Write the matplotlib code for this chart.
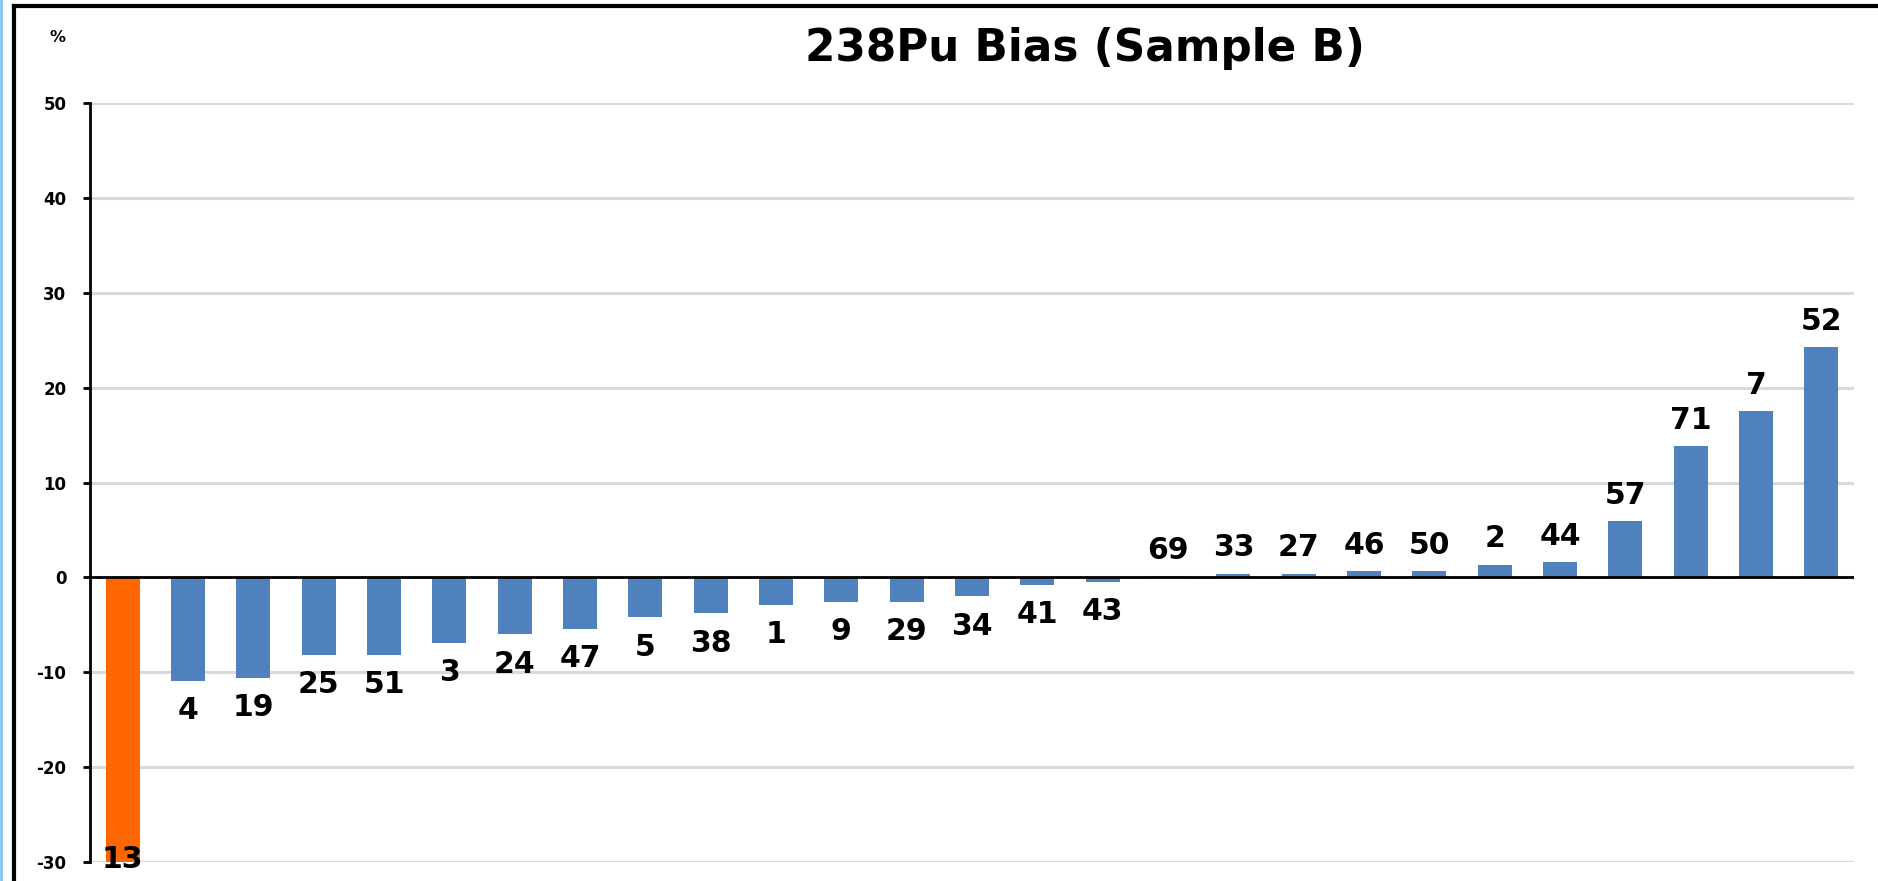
#!/usr/bin/env python3
"""238Pu bias per laboratory, Sample B."""

import matplotlib

matplotlib.use("Agg")
import matplotlib.pyplot as plt  # noqa: E402
from matplotlib.lines import Line2D  # noqa: E402
import numpy as np  # noqa: E402

LABS = ["13", "4", "19", "25", "51", "3", "24", "47", "5", "38", "1", "9", "29",
        "34", "41", "43", "69", "33", "27", "46", "50", "2", "44", "57", "71",
        "7", "52"]
BIAS = [-30.0, -10.9, -10.6, -8.15, -8.15, -6.9, -6.0, -5.4, -4.2, -3.8, -2.9,
        -2.6, -2.6, -2.0, -0.8, -0.5, 0.1, 0.4, 0.4, 0.7, 0.7, 1.35, 1.6, 5.9,
        13.85, 17.5, 24.3]
HIGHLIGHT = ["13"]
Y_TICKS = [-30, -20, -10, 0, 10, 20, 30, 40, 50]

BLUE = "#4F81BD"
ORANGE = "#FF6600"
GRID = "#D9D9D9"


def main() -> None:
    W, H = 1878, 881
    fig = plt.figure(figsize=(W / 100, H / 100), dpi=100)
    ax = fig.add_axes([90 / W, 1 - 862 / H, (1854 - 90) / W, (862 - 103) / H])

    x = np.arange(len(LABS))
    colors = [ORANGE if lab in HIGHLIGHT else BLUE for lab in LABS]
    ax.bar(x, BIAS, width=0.52, color=colors, zorder=3)

    ymin, ymax = Y_TICKS[0], Y_TICKS[-1]
    ax.set_xlim(-0.5, len(LABS) - 0.5)
    ax.set_ylim(ymin, ymax)
    ax.set_yticks(Y_TICKS)
    ax.set_yticklabels([str(t) for t in Y_TICKS], fontsize=12, fontweight="bold")
    ax.set_xticks([])
    ax.grid(axis="y", color=GRID, linewidth=2.2, zorder=0)
    ax.axhline(0, color="black", linewidth=2.0, zorder=4)

    for side in ("top", "right", "bottom"):
        ax.spines[side].set_visible(False)
    ax.spines["left"].set_linewidth(2.0)
    ax.tick_params(axis="y", direction="out", length=5, width=2.0, pad=12)

    label_kw = dict(ha="center", fontsize=21.5, fontweight="bold", zorder=5,
                    textcoords="offset points")
    for xi, val, lab in zip(x, BIAS, LABS):
        if val <= ymin:
            ax.annotate(lab, (xi, ymin), xytext=(0, 2), va="center",
                        annotation_clip=False, **label_kw)
        elif val < 0:
            ax.annotate(lab, (xi, val), xytext=(0, -11), va="top", **label_kw)
        else:
            ax.annotate(lab, (xi, val), xytext=(0, 8), va="bottom", **label_kw)

    fig.text(1085 / W, 1 - 48 / H, "238Pu Bias (Sample B)",
             fontsize=31.5, fontweight="bold", ha="center", va="center")
    fig.text(58 / W, 1 - 37 / H, "%", fontsize=11.5, fontweight="bold",
             ha="center", va="center")

    # chart frame: black along top and left, light blue strip at the edge
    fig.add_artist(Line2D([14 / W, 14 / W], [0, 1 - 6 / H], color="black",
                          linewidth=3, transform=fig.transFigure))
    fig.add_artist(Line2D([14 / W, 1], [1 - 6 / H, 1 - 6 / H], color="black",
                          linewidth=3, transform=fig.transFigure))
    fig.add_artist(Line2D([1 / W, 1 / W], [0, 1], color="#7FC4EE",
                          linewidth=2, transform=fig.transFigure))

    fig.savefig("out.png", dpi=100)
    plt.close(fig)


if __name__ == "__main__":
    main()
